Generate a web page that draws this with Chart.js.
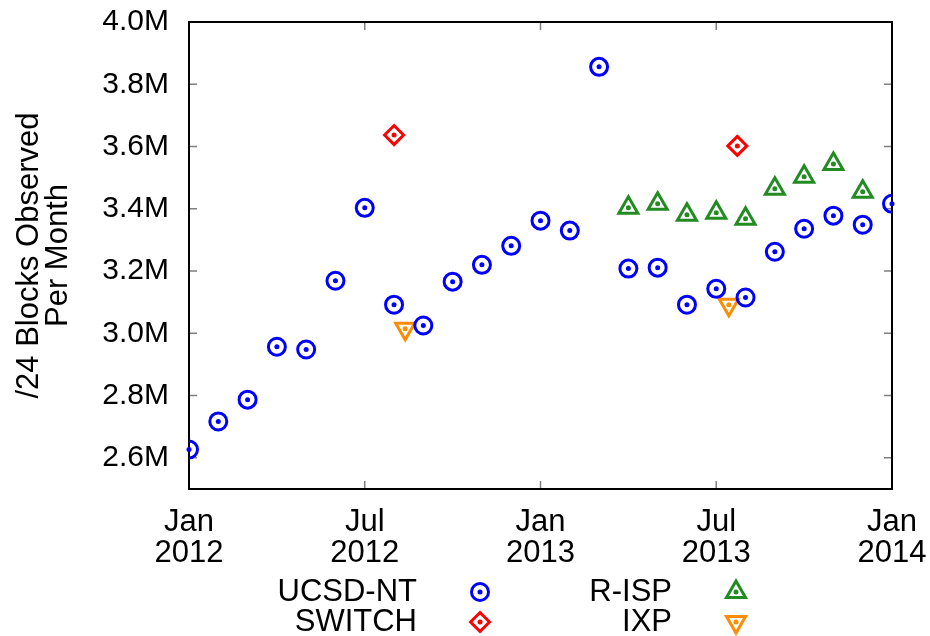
<!DOCTYPE html>
<html>
<head>
<meta charset="utf-8">
<script src="https://cdn.jsdelivr.net/npm/chart.js"></script>
<style>
  html, body { margin: 0; padding: 0; background: #fff; }
  #wrap { width: 930px; height: 636px; }
</style>
</head>
<body>
<div id="wrap"><canvas id="myChart" width="930" height="636"></canvas></div>
<script>
// x values are months counted from Jan 2012 (0 = Jan 2012), y values in millions
const ucsdMonths = [0, 1, 2, 3, 4, 5, 6, 7, 8, 9, 10, 11, 12, 13, 14, 15, 16, 17, 18, 19, 20, 21, 22, 23, 24];
const ucsdValues = [2.627, 2.717, 2.787, 2.957, 2.948, 3.169, 3.403, 3.092, 3.025, 3.166, 3.220, 3.281, 3.362, 3.330, 3.856, 3.208, 3.211, 3.092, 3.143, 3.115, 3.262, 3.336, 3.378, 3.349, 3.416];

const switchMonths = [7, 18.72];
const switchValues = [3.637, 3.602];

const rispMonths = [15, 16, 17, 18, 19, 20, 21, 22, 23];
const rispValues = [3.403, 3.416, 3.381, 3.387, 3.368, 3.464, 3.503, 3.544, 3.455];

const ixpMonths = [7.38, 18.43];
const ixpValues = [3.015, 3.092];

const xTickValues = [0, 6, 12, 18, 24];
const xTickLabels = [['Jan', '2012'], ['Jul', '2012'], ['Jan', '2013'], ['Jul', '2013'], ['Jan', '2014']];
const yTickValues = [2.6, 2.8, 3.0, 3.2, 3.4, 3.6, 3.8, 4.0];

const FONT = 'Liberation Sans, Arial, sans-serif';

function toPoints(xs, ys) {
  return xs.map((x, i) => ({ x: x, y: ys[i] }));
}

const series = [
  { label: 'UCSD-NT', color: '#0000ff', style: 'circle', radius: 8.5, rotation: 0, data: toPoints(ucsdMonths, ucsdValues) },
  { label: 'SWITCH', color: '#ff0000', style: 'rectRot', radius: 9.5, rotation: 0, data: toPoints(switchMonths, switchValues) },
  { label: 'R-ISP', color: '#228b22', style: 'triangle', radius: 11, rotation: 0, data: toPoints(rispMonths, rispValues) },
  { label: 'IXP', color: '#ff8c00', style: 'triangle', radius: 11, rotation: 180, data: toPoints(ixpMonths, ixpValues) },
];

// legend placement: [text right edge, row centre, marker x]
const legendSlots = [
  [417, 592, 480],
  [417, 622, 480],
  [672, 592, 736],
  [672, 622, 736],
];

const centerDots = {
  id: 'centerDots',
  afterDatasetsDraw(chart) {
    const ctx = chart.ctx;
    chart.data.datasets.forEach((ds, i) => {
      chart.getDatasetMeta(i).data.forEach(pt => {
        ctx.save();
        ctx.fillStyle = ds.borderColor;
        ctx.beginPath();
        ctx.arc(pt.x, pt.y, 2.5, 0, Math.PI * 2);
        ctx.fill();
        ctx.restore();
      });
    });
  }
};

const frameAndTicks = {
  id: 'frameAndTicks',
  beforeDatasetsDraw(chart) {
    const { ctx, chartArea: a, scales } = chart;
    ctx.save();
    ctx.strokeStyle = '#808080';
    ctx.lineWidth = 1.5;
    ctx.beginPath();
    yTickValues.forEach(v => {
      const y = scales.y.getPixelForValue(v);
      ctx.moveTo(a.left, y); ctx.lineTo(a.left + 8, y);
      ctx.moveTo(a.right, y); ctx.lineTo(a.right - 8, y);
    });
    xTickValues.forEach(v => {
      const x = scales.x.getPixelForValue(v);
      ctx.moveTo(x, a.bottom); ctx.lineTo(x, a.bottom - 8);
      ctx.moveTo(x, a.top); ctx.lineTo(x, a.top + 8);
    });
    ctx.stroke();
    ctx.strokeStyle = '#000';
    ctx.lineWidth = 2;
    ctx.strokeRect(a.left, a.top, a.right - a.left, a.bottom - a.top);
    ctx.restore();
  }
};

const sideLegend = {
  id: 'sideLegend',
  afterDraw(chart) {
    const ctx = chart.ctx;
    ctx.save();
    ctx.font = '31px ' + FONT;
    ctx.textAlign = 'right';
    ctx.textBaseline = 'middle';
    chart.data.datasets.forEach((ds, i) => {
      const [tx, ty, mx] = legendSlots[i];
      ctx.fillStyle = '#000';
      ctx.fillText(ds.label, tx, ty);
      ctx.strokeStyle = ds.borderColor;
      ctx.fillStyle = 'rgba(0,0,0,0)';
      ctx.lineWidth = 3;
      Chart.helpers.drawPoint(ctx, {
        pointStyle: ds.pointStyle, radius: ds.pointRadius, rotation: ds.pointRotation, borderWidth: 3
      }, mx, ty);
      ctx.fillStyle = ds.borderColor;
      ctx.beginPath();
      ctx.arc(mx, ty, 2.5, 0, Math.PI * 2);
      ctx.fill();
    });
    ctx.restore();
  }
};

// keep the plot box where the reference has it: drop the label overhang padding
function noOverhang(scale) {
  scale.paddingLeft = 0;
  scale.paddingRight = 0;
  scale.paddingTop = 0;
  scale.paddingBottom = 0;
}

const data = {
  datasets: series.map(s => ({
    label: s.label,
    data: s.data,
    showLine: false,
    borderColor: s.color,
    backgroundColor: 'transparent',
    pointStyle: s.style,
    pointRadius: s.radius,
    pointHoverRadius: s.radius,
    pointRotation: s.rotation,
    pointBorderWidth: 3,
    pointHoverBorderWidth: 3,
  }))
};

const config = {
  type: 'scatter',
  data: data,
  options: {
    responsive: false,
    animation: false,
    events: [],
    layout: { padding: { left: 0, top: 22, right: 38, bottom: 0 } },
    plugins: {
      legend: { display: false },
      tooltip: { enabled: false },
    },
    scales: {
      x: {
        type: 'linear',
        min: 0,
        max: 24,
        grid: { display: false, drawTicks: false },
        border: { display: false },
        afterBuildTicks: scale => { scale.ticks = xTickValues.map(v => ({ value: v })); },
        afterFit: scale => { scale.height = 147; noOverhang(scale); },
        ticks: {
          color: '#000',
          padding: 18,
          maxRotation: 0,
          font: { family: FONT, size: 31, lineHeight: 1.0 },
          callback: (v) => xTickLabels[xTickValues.indexOf(v)],
        },
      },
      y: {
        min: 2.5,
        max: 4.0,
        grid: { display: false, drawTicks: false },
        border: { display: false },
        afterBuildTicks: scale => { scale.ticks = yTickValues.map(v => ({ value: v })); },
        afterFit: scale => { scale.width = 189; noOverhang(scale); },
        ticks: {
          color: '#000',
          padding: 20,
          font: { family: FONT, size: 30 },
          callback: v => v.toFixed(1) + 'M',
        },
        title: {
          display: true,
          text: ['/24 Blocks Observed', 'Per Month'],
          color: '#000',
          padding: { top: 15, bottom: 0 },
          font: { family: FONT, size: 31, lineHeight: 0.93 },
        },
      },
    },
  },
  plugins: [frameAndTicks, centerDots, sideLegend],
};

if (document.getElementById('myChart')) {
  const myChart = new Chart(
    document.getElementById('myChart').getContext('2d'),
    config
  );
}
</script>
</body>
</html>
